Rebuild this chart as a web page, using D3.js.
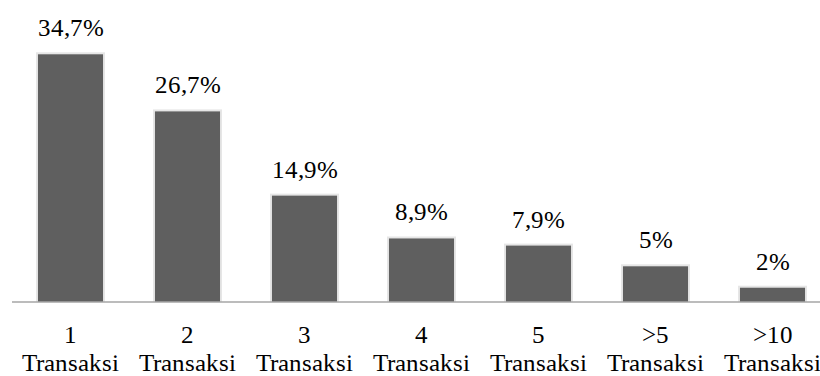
<!DOCTYPE html>
<html>
<head>
<meta charset="utf-8">
<script src="https://cdn.jsdelivr.net/npm/d3@7"></script>
<style>
  @font-face {
    font-family: "ChartSerif";
    src: local("Liberation Serif"), local("LiberationSerif"), local("LiberationSerif-Regular"),
         local("Tinos"), local("Tinos-Regular"), local("Times New Roman"), local("FreeSerif");
  }
  body { margin: 0; background: #fff; }
</style>
</head>
<body>
<div id="chart"></div>
<script>
// data
var categories = ["1", "2", "3", "4", "5", ">5", ">10"]
var values = [34.7, 26.7, 14.9, 8.9, 7.9, 5, 2]
var valueLabels = ["34,7%", "26,7%", "14,9%", "8,9%", "7,9%", "5%", "2%"]
var subLabel = "Transaksi"

var width = 820, height = 376
var baseY = 302
var serif = "ChartSerif, 'Liberation Serif', Tinos, 'Times New Roman', serif"

function draw() {
  var svg = d3.select("#chart")
    .append("svg")
      .attr("width", width)
      .attr("height", height)
      .style("font-family", serif)

  var x = d3.scaleBand()
    .domain(categories)
    .range([12, 831])
    .paddingInner(0.444)
    .paddingOuter(0.222)

  var y = d3.scaleLinear()
    .domain([0, 34.7])
    .range([baseY, 54.3])

  // faint halo behind the bars
  svg.selectAll("rect.halo")
    .data(values)
    .enter()
    .append("rect")
      .attr("class", "halo")
      .attr("x", (d, i) => x(categories[i]) - 2)
      .attr("y", d => y(d) - 2)
      .attr("width", x.bandwidth() + 4)
      .attr("height", d => baseY - y(d) + 2)
      .attr("fill", "#e6e6e6")

  // bars
  svg.selectAll("rect.bar")
    .data(values)
    .enter()
    .append("rect")
      .attr("class", "bar")
      .attr("x", (d, i) => x(categories[i]))
      .attr("y", d => y(d))
      .attr("width", x.bandwidth())
      .attr("height", d => baseY - y(d))
      .attr("fill", "#5f5f5f")

  // baseline
  svg.append("line")
    .attr("x1", 12).attr("x2", width)
    .attr("y1", baseY).attr("y2", baseY)
    .attr("stroke", "#a6a6a6")
    .attr("stroke-width", 1.5)

  // value labels
  svg.selectAll("text.val")
    .data(values)
    .enter()
    .append("text")
      .attr("class", "val")
      .attr("x", (d, i) => x(categories[i]) + x.bandwidth() / 2)
      .attr("y", d => y(d) - 18)
      .attr("text-anchor", "middle")
      .attr("font-size", 25)
      .style("font-family", serif)
      .text((d, i) => valueLabels[i])

  // category labels, two lines
  var cat = svg.selectAll("g.cat")
    .data(categories)
    .enter()
    .append("g")
      .attr("class", "cat")
      .attr("transform", d => "translate(" + (x(d) + x.bandwidth() / 2) + ",0)")

  cat.append("text")
    .attr("y", 343)
    .attr("text-anchor", "middle")
    .attr("font-size", 25)
    .style("font-family", serif)
    .text(d => d)

  cat.append("text")
    .attr("y", 371)
    .attr("text-anchor", "middle")
    .attr("font-size", 25)
    .style("font-family", serif)
    .text(subLabel)
}

// draw now; the local face swaps in once it has loaded
draw()
if (document.fonts && document.fonts.load) {
  document.fonts.load("25px ChartSerif").catch(function () {})
}
</script>
</body>
</html>
